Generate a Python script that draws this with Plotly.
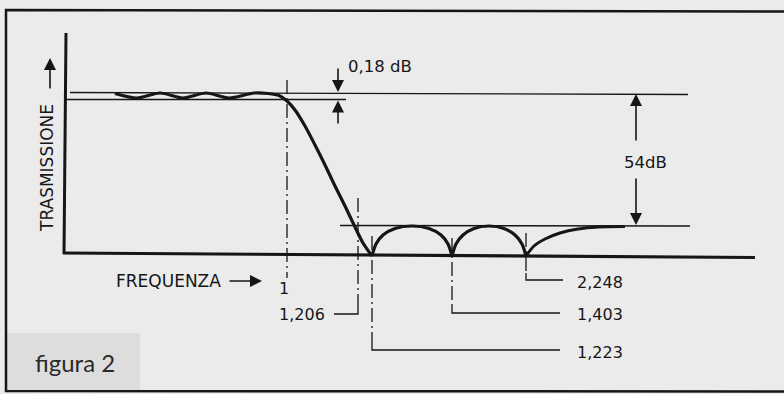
import plotly.graph_objects as go

# ---- values shown on the diagram -------------------------------------------
RIPPLE_DB = 0.18          # pass-band ripple
STOPBAND_DB = 54          # minimum stop-band attenuation
FREQ_VALUES = [1.0, 1.206, 1.223, 1.403, 2.248]   # normalised frequencies

# traced response curve (diagram units, y grows downward)
PASS_X = [115, 137, 160, 183, 206, 229, 254, 268, 279, 287, 295, 305, 315,
          325, 335, 345, 355, 363, 372]
PASS_Y = [93.5, 98, 93, 98, 93, 98, 93, 93.5, 95.5, 101, 110, 126, 145,
          165, 186, 206, 227, 243, 256]
LOBE1_X = [372, 376, 383, 395, 412, 429, 441, 448, 452]
LOBE1_Y = [256, 244, 235, 228.5, 226, 228.5, 235, 244, 256]
LOBE2_X = [452, 456, 463, 474, 489, 504, 515, 522, 526]
LOBE2_Y = [256, 244, 235, 228.5, 226, 228.5, 235, 244, 256]
TAIL_X = [526, 534, 545, 560, 578, 598, 625]
TAIL_Y = [256, 246, 239, 233, 229, 227, 226.5]


def fmt(v, nd=3):
    return f"{v:.{nd}f}".replace(".", ",")


INK = "#161616"
BG = "#ebebeb"
FONT = "DejaVu Sans"

# diagram layout (schematic, not to scale)
Y_TOP = 93          # 0 dB reference
Y_RIP = 99.5        # -RIPPLE_DB
Y_STOP = 226        # -STOPBAND_DB
MARK_X = {1.0: 287, 1.206: 358, 1.223: 372, 1.403: 452, 2.248: 526}
DASHDOT = "14px,4px,2px,4px"

fig = go.Figure()


def seg(xs, ys, width=1.3, dash="solid", shape="linear", color=INK,
        smoothing=1.0):
    fig.add_trace(go.Scatter(x=xs, y=ys, mode="lines", hoverinfo="skip",
                             line=dict(color=color, width=width, dash=dash,
                                       shape=shape, smoothing=smoothing)))


# figure label panel
fig.add_shape(type="rect", xref="x", yref="y", x0=6, x1=140, y0=333, y1=391,
              fillcolor="#dddddd", line=dict(width=0), layer="below")

# outer frame
seg([784, 6, 6, 784], [11.5, 10, 391, 391.5], width=2.5)

# axes
seg([66, 64], [33, 254], width=3)
seg([63, 755], [253, 257.5], width=3.2)

# reference levels
seg([70, 688], [92.5, 94.5], width=1.3)
seg([66, 346], [Y_RIP, Y_RIP], width=1.3)
seg([340, 690], [Y_STOP - 0.5, Y_STOP], width=1.3)

# response curve
seg(PASS_X, PASS_Y, width=3.2, shape="spline", smoothing=0.8)
seg(LOBE1_X, LOBE1_Y, width=3.2, shape="spline", smoothing=0.8)
seg(LOBE2_X, LOBE2_Y, width=3.2, shape="spline", smoothing=0.8)
seg(TAIL_X, TAIL_Y, width=3.0, shape="spline", smoothing=0.8)

# frequency markers: dash-dot drop line + solid leader to label
x1, x1206, x1223, x1403, x2248 = (MARK_X[f] for f in FREQ_VALUES)
seg([x1, x1], [80, 278], width=1.3, dash=DASHDOT)
seg([x1206, x1206], [198, 306], width=1.3, dash=DASHDOT)
seg([x1206, x1206, 334], [306, 314, 314], width=1.3)
seg([x1223, x1223], [236, 342], width=1.3, dash=DASHDOT)
seg([x1223, x1223, 560], [342, 350, 350], width=1.3)
seg([x1403, x1403], [238, 305], width=1.3, dash=DASHDOT)
seg([x1403, x1403, 560], [305, 313, 313], width=1.3)
seg([x2248, x2248], [233, 273], width=1.3, dash=DASHDOT)
seg([x2248, x2248, 563], [273, 280, 280], width=1.3)

ann = []


def arrow(x, y, ax, ay):
    ann.append(dict(x=x, y=y, ax=ax, ay=ay, xref="x", yref="y", axref="x",
                    ayref="y", text="", showarrow=True, arrowhead=2,
                    arrowsize=1.5, arrowwidth=1.6, arrowcolor=INK))


def label(x, y, text, size=16, anchor="left", angle=0, font=FONT,
          color=INK):
    ann.append(dict(x=x, y=y, xref="x", yref="y", text=text, showarrow=False,
                    xanchor=anchor, yanchor="middle", textangle=angle,
                    font=dict(family=font, size=size, color=color)))


# ripple dimension
arrow(338, Y_TOP - 1, 338, 67)
arrow(338, Y_RIP + 1, 338, 125)
label(346, 66, f"{fmt(RIPPLE_DB, 2)} dB", size=16.5)

# stop-band dimension
arrow(636, Y_TOP + 1, 636, 142)
arrow(636, Y_STOP - 1, 636, 177)
label(645, 162, f"{STOPBAND_DB}dB", size=16.5, anchor="center")

# axis titles
label(47, 168, "TRASMISSIONE", size=17, anchor="center", angle=-90)
arrow(50, 58, 50, 90)
label(114, 281, "FREQUENZA", size=17)
arrow(262, 281, 228, 281)

# frequency labels
label(277, 288, fmt(FREQ_VALUES[0], 0), size=16)
label(327, 314, fmt(FREQ_VALUES[1]), size=16, anchor="right")
label(575, 352, fmt(FREQ_VALUES[2]), size=16)
label(575, 314, fmt(FREQ_VALUES[3]), size=16)
label(575, 282, fmt(FREQ_VALUES[4]), size=16)

label(33, 362, "figura 2", size=24, font="Lato", color="#2a2a2a")

fig.update_layout(
    width=784, height=394,
    margin=dict(l=0, r=0, t=0, b=0),
    paper_bgcolor=BG, plot_bgcolor=BG,
    showlegend=False,
    annotations=ann,
    xaxis=dict(range=[0, 784], visible=False, fixedrange=True),
    yaxis=dict(range=[394, 0], visible=False, fixedrange=True),
)

fig.write_html("out.html", config={"displayModeBar": False})
